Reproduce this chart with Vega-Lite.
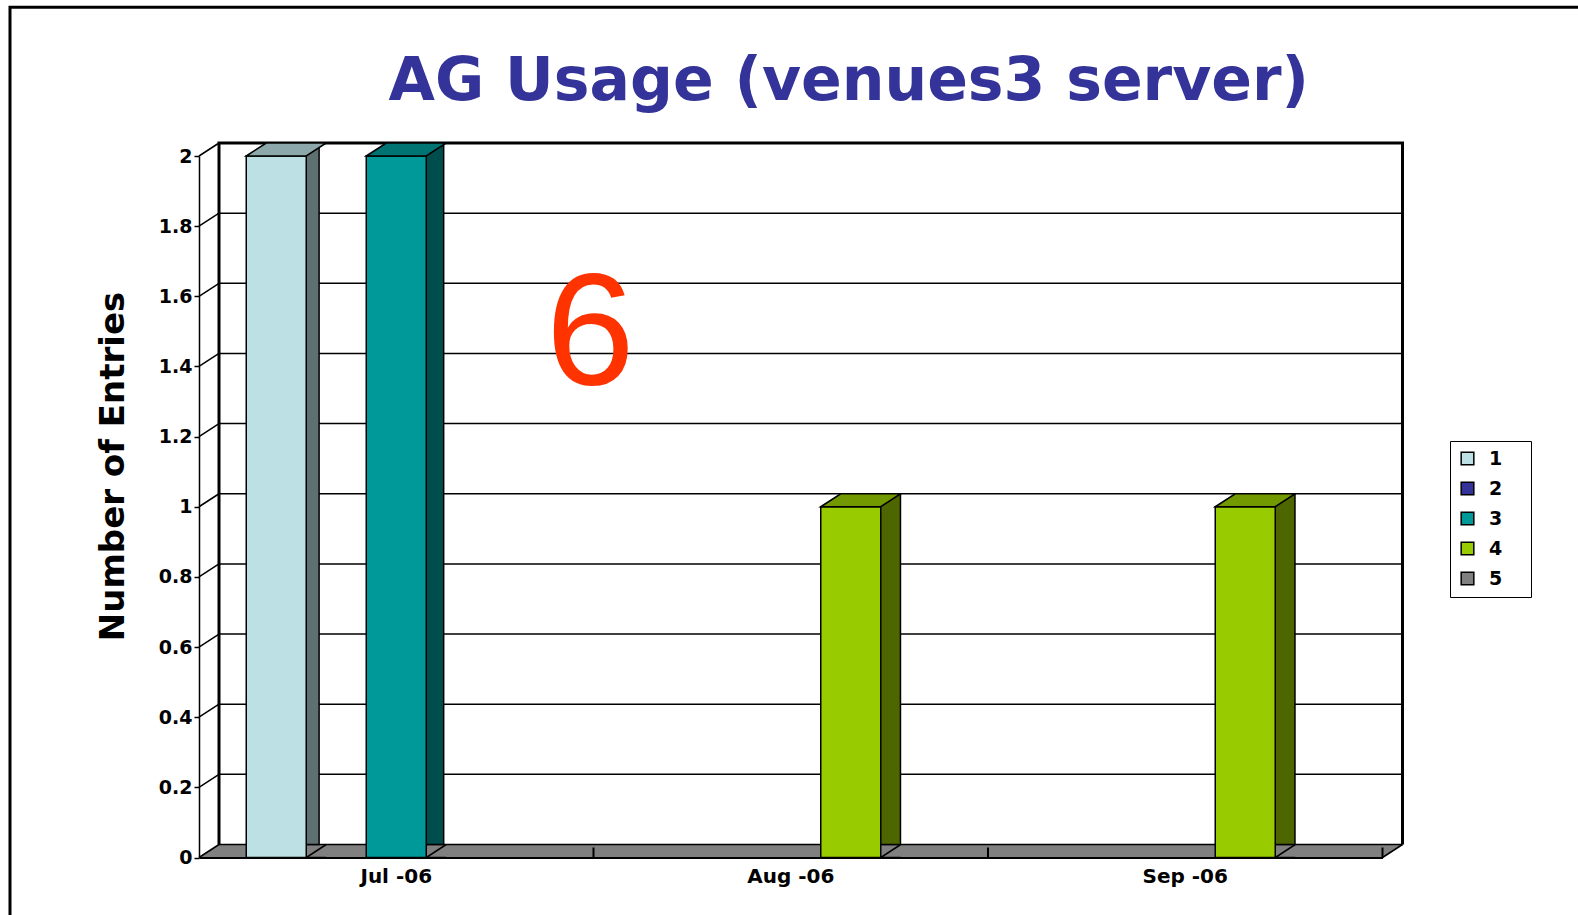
{
  "$schema": "https://vega.github.io/schema/vega-lite/v6.json",
  "width": 1183.5,
  "height": 701.5,
  "autosize": {"type": "none"},
  "padding": {"left": 199, "top": 156, "right": 195.5, "bottom": 57.5},
  "background": "white",
  "config": {"view": {"stroke": null}, "font": "DejaVu Sans"},
  "title": {
    "text": "AG Usage (venues3 server)",
    "font": "DejaVu Sans",
    "fontSize": 60,
    "fontWeight": "bold",
    "color": "#333399",
    "anchor": "middle",
    "frame": "group",
    "dx": 58,
    "offset": -159,
    "baseline": "alphabetic"
  },
  "datasets": {
    "bars": [
      {"month": "Jul -06", "series": "1", "entries": 2},
      {"month": "Jul -06", "series": "3", "entries": 2},
      {"month": "Aug -06", "series": "4", "entries": 1},
      {"month": "Sep -06", "series": "4", "entries": 1}
    ],
    "ticks": [
      {"v": 0}, {"v": 0.2}, {"v": 0.4}, {"v": 0.6}, {"v": 0.8}, {"v": 1},
      {"v": 1.2}, {"v": 1.4}, {"v": 1.6}, {"v": 1.8}, {"v": 2}
    ],
    "months": [{"month": "Jul -06"}, {"month": "Aug -06"}, {"month": "Sep -06"}],
    "frame": [{"part": "frame"}]
  },
  "resolve": {"scale": {"xOffset": "independent", "fill": "independent"}},
  "layer": [
    {
      "data": {"name": "frame"},
      "mark": {"type": "point", "shape": "M-1,0L-0.8986,-0.0659L5.1014,-0.0659L5,0Z", "size": 155630.25, "filled": true, "fill": "#808080", "strokeWidth": 0, "opacity": 1},
      "encoding": {
        "x": {"datum": "Jul -06", "type": "nominal", "scale": {"type": "band", "domain": ["Jul -06", "Aug -06", "Sep -06"], "paddingInner": 0, "paddingOuter": 0}},
        "y": {"datum": 0, "type": "quantitative"}
      }
    },
    {
      "data": {"name": "ticks"},
      "transform": [{"filter": "datum.v < 2"}],
      "mark": {"type": "point", "shape": "M-0.8986,-0.0659L5.1014,-0.0659", "size": 155630.25, "filled": false, "color": "black", "stroke": "black", "strokeWidth": 1.5, "opacity": 1},
      "encoding": {
        "x": {"datum": "Jul -06", "type": "nominal"},
        "y": {"field": "v", "type": "quantitative"}
      }
    },
    {
      "data": {"name": "ticks"},
      "mark": {"type": "point", "shape": "M-1,0L-0.8986,-0.0659", "size": 155630.25, "filled": false, "color": "black", "stroke": "black", "strokeWidth": 1.5, "opacity": 1},
      "encoding": {
        "x": {"datum": "Jul -06", "type": "nominal"},
        "y": {"field": "v", "type": "quantitative"}
      }
    },
    {
      "data": {"name": "frame"},
      "mark": {"type": "point", "shape": "M-0.8986,-0.0659L-0.8986,-3.6223L5.1014,-3.6223L5.1014,-0.0659", "size": 155630.25, "filled": false, "color": "black", "stroke": "black", "strokeWidth": 3, "opacity": 1},
      "encoding": {
        "x": {"datum": "Jul -06", "type": "nominal"},
        "y": {"datum": 0, "type": "quantitative"}
      }
    },
    {
      "data": {"name": "frame"},
      "mark": {"type": "point", "shape": "M5,0L5.1014,-0.0659", "size": 155630.25, "filled": false, "color": "black", "stroke": "black", "strokeWidth": 1.5, "opacity": 1},
      "encoding": {
        "x": {"datum": "Jul -06", "type": "nominal"},
        "y": {"datum": 0, "type": "quantitative"}
      }
    },
    {
      "data": {"name": "months"},
      "mark": {"type": "point", "shape": "M1,0L1,-0.0507", "size": 155630.25, "filled": false, "color": "black", "stroke": "black", "strokeWidth": 2, "opacity": 1},
      "encoding": {
        "x": {"field": "month", "type": "nominal"},
        "y": {"datum": 0, "type": "quantitative"}
      }
    },
    {
      "data": {"name": "bars"},
      "mark": {"type": "bar", "yOffset": -13, "y2Offset": 0, "stroke": "black", "strokeWidth": 1.5},
      "encoding": {
        "x": {"field": "month", "type": "nominal"},
        "xOffset": {"field": "series", "type": "nominal", "scale": {"type": "band", "domain": ["1", "2", "3", "4", "5"], "paddingInner": 0.666667, "paddingOuter": 1.120833, "align": 0.797398, "round": false}},
        "y": {"field": "entries", "type": "quantitative"},
        "fill": {"field": "series", "type": "nominal", "legend": null, "scale": {"domain": ["1", "2", "3", "4", "5"], "range": ["#5E7072", "#1A1A4D", "#004D4D", "#4D6600", "#404040"]}}
      }
    },
    {
      "data": {"name": "bars"},
      "mark": {"type": "point", "shape": "M1.6667,0L1,0L1.6667,-0.4333", "size": 3600, "filled": true, "fill": "#808080", "stroke": "black", "strokeWidth": 1.5, "opacity": 1},
      "encoding": {
        "x": {"field": "month", "type": "nominal"},
        "xOffset": {"field": "series", "type": "nominal", "scale": {"type": "band", "domain": ["1", "2", "3", "4", "5"], "paddingInner": 0, "paddingOuter": 0.7875, "round": false}},
        "y": {"datum": 0, "type": "quantitative"}
      }
    },
    {
      "data": {"name": "bars"},
      "mark": {"type": "bar", "stroke": "black", "strokeWidth": 1.5},
      "encoding": {
        "x": {
          "field": "month", "type": "nominal",
          "sort": ["Jul -06", "Aug -06", "Sep -06"],
          "scale": {"type": "band", "domain": ["Jul -06", "Aug -06", "Sep -06"], "paddingInner": 0, "paddingOuter": 0},
          "axis": {"title": null, "ticks": false, "domainColor": "black", "domainWidth": 2, "labelFont": "DejaVu Sans", "labelFontWeight": "bold", "labelFontSize": 20, "labelColor": "black", "labelPadding": 9, "labelAngle": 0, "labelAlign": "center", "labelBaseline": "top", "zindex": 1}
        },
        "xOffset": {"field": "series", "type": "nominal", "scale": {"type": "band", "domain": ["1", "2", "3", "4", "5"], "paddingInner": 0, "paddingOuter": 0.7875, "round": false}},
        "y": {
          "field": "entries", "type": "quantitative",
          "scale": {"domain": [0, 2], "nice": false},
          "axis": {"title": "Number of Entries", "values": [0, 0.2, 0.4, 0.6, 0.8, 1, 1.2, 1.4, 1.6, 1.8, 2], "format": "~g", "grid": false, "domainColor": "black", "domainWidth": 1.5, "tickColor": "black", "tickSize": 5, "tickWidth": 1.5, "labelFont": "DejaVu Sans", "labelFontWeight": "bold", "labelFontSize": 19, "labelColor": "black", "labelPadding": 2, "titleFont": "DejaVu Sans", "titleFontSize": 34, "titleFontWeight": "bold", "titleColor": "black", "titleX": -75.5, "titleY": 310, "titleAngle": -90, "titleBaseline": "alphabetic", "titleAlign": "center", "zindex": 1}
        },
        "color": {
          "field": "series", "type": "nominal",
          "scale": {"domain": ["1", "2", "3", "4", "5"], "range": ["#BCE0E4", "#333399", "#009999", "#99CC00", "#808080"]},
          "legend": {"title": null, "orient": "none", "legendX": 1251, "legendY": 285, "symbolType": "square", "symbolSize": 160, "symbolStrokeColor": "black", "symbolStrokeWidth": 1.5, "symbolOpacity": 1, "labelFont": "DejaVu Sans", "labelFontWeight": "bold", "labelFontSize": 19, "labelColor": "black", "labelExpr": "datum.label + '\u00a0\u00a0\u00a0\u200b'", "strokeColor": "black", "padding": 8, "rowPadding": 10, "labelOffset": 12}
        }
      }
    },
    {
      "data": {"name": "bars"},
      "mark": {"type": "point", "shape": "M-1,0L-0.3333,-0.4333L1.6667,-0.4333L1,0Z", "size": 3600, "filled": true, "stroke": "black", "strokeWidth": 1.5, "opacity": 1},
      "encoding": {
        "x": {"field": "month", "type": "nominal"},
        "xOffset": {"field": "series", "type": "nominal", "scale": {"type": "band", "domain": ["1", "2", "3", "4", "5"], "paddingInner": 0, "paddingOuter": 0.7875, "round": false}},
        "y": {"field": "entries", "type": "quantitative"},
        "fill": {"field": "series", "type": "nominal", "legend": null, "scale": {"domain": ["1", "2", "3", "4", "5"], "range": ["#8DA8AB", "#262673", "#007373", "#739900", "#606060"]}}
      }
    },
    {
      "data": {"name": "frame"},
      "mark": {"type": "text", "text": "6", "font": "Liberation Sans", "fontSize": 160, "color": "#FF3300", "align": "center", "baseline": "alphabetic", "dx": 194},
      "encoding": {
        "x": {"datum": "Jul -06", "type": "nominal"},
        "y": {"datum": 1.35, "type": "quantitative"}
      }
    },
    {
      "data": {"name": "frame"},
      "mark": {"type": "point", "shape": "M-1.9582,0.4L-1.9582,-4.3103L6.1,-4.3103", "size": 155630.25, "filled": false, "color": "black", "stroke": "black", "strokeWidth": 3, "opacity": 1},
      "encoding": {
        "x": {"datum": "Jul -06", "type": "nominal"},
        "y": {"datum": 0, "type": "quantitative"}
      }
    }
  ]
}
